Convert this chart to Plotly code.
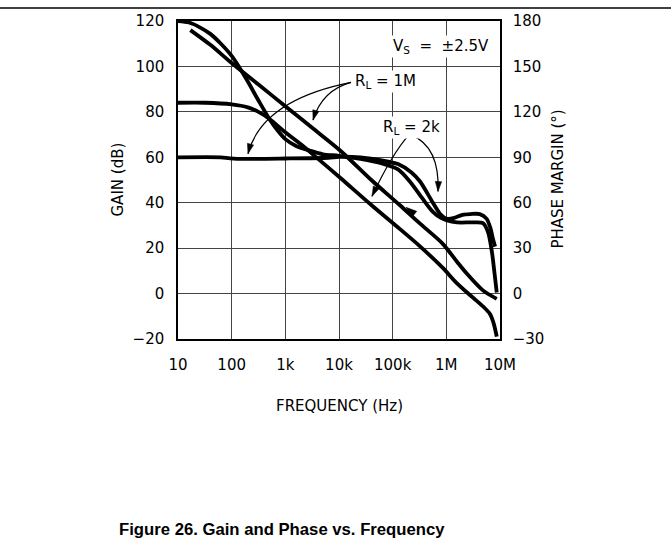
import math
import plotly.graph_objects as go

# ---------------- data ----------------
x_tick_vals = [10, 100, 1e3, 1e4, 1e5, 1e6, 1e7]
x_tick_text = ["10", "100", "1k", "10k", "100k", "1M", "10M"]
gain_ticks = [-20, 0, 20, 40, 60, 80, 100, 120]
phase_ticks = [-30, 0, 30, 60, 90, 120, 150, 180]

# Gain, R_L = 1M (dB)
freq_gain_1m = [17, 40, 100, 316, 1000, 3162, 10500, 40000, 135000, 316000,
                851000, 1.58e6, 2.4e6, 4.8e6, 8.7e6]
gain_1m = [116, 109.5, 101.5, 92, 82.5, 73, 63, 50, 39, 31,
           22, 14, 8.8, 1.4, -2.3]

# Gain, R_L = 2k (dB)
freq_gain_2k = [10, 32, 100, 200, 316, 500, 630, 1000, 2000, 3981, 10500,
                40000, 135000, 316000, 851000, 1.58e6, 3.1e6, 5e6, 6.5e6,
                7.6e6, 8.7e6]
gain_2k = [84, 84, 83.3, 82, 80, 77, 75, 71, 65.5, 59.5, 51,
           39, 28.5, 21, 11.4, 4.5, -1.7, -6, -9,
           -13, -19]

# Phase margin, R_L = 2k (deg)
freq_phase_2k = [10, 16, 25, 40, 63, 100, 141, 200, 316, 500, 708, 1000,
                 1585, 2818, 5012, 10000, 25000, 63000, 126000, 209000,
                 355000, 562000, 794000, 1e6, 1.58e6, 3.16e6, 4.8e6, 6e6,
                 7.1e6, 7.9e6, 8.7e6]
phase_2k = [180, 179, 176, 171.5, 165, 157, 149, 140, 127.5, 115.5, 108, 102,
            97.5, 94.5, 92, 91, 89, 86, 82, 74,
            63, 54, 50, 48.5, 47, 47, 46.5, 40.5,
            27, 13.5, 0.75]

# Phase margin, R_L = 1M (deg)
freq_phase_1m = [10, 63, 89, 126, 1000, 6310, 10000, 25000, 63000, 126000,
                 224000, 324000, 562000, 794000, 1e6, 1.41e6, 2e6, 2.8e6,
                 4.2e6, 5.6e6, 6.6e6, 7.4e6, 8.1e6]
phase_1m = [90, 90, 89.4, 89, 89.2, 89.7, 90.3, 89.9, 88, 85.5,
            80, 74, 60, 52, 49.5, 50, 52, 52.5,
            52.5, 49.5, 43.5, 36, 31]

# ---------------- figure ----------------
FONT = "DejaVu Sans"
L, R, T, B = 178, 171, 18, 209
W, H = 671, 548
PW, PH = W - L - R, H - T - B
NB = "\u00a0"


def px(x, y):
    """pixel -> paper coordinates (for decorations only)"""
    return (x - L) / PW, (H - B - y) / PH


line_style = dict(color="black", width=3.8, shape="spline", smoothing=0.8)

fig = go.Figure()
fig.add_trace(go.Scatter(x=freq_gain_1m, y=gain_1m, mode="lines",
                         line=line_style, name="Gain RL=1M", yaxis="y"))
fig.add_trace(go.Scatter(x=freq_gain_2k, y=gain_2k, mode="lines",
                         line=line_style, name="Gain RL=2k", yaxis="y"))
fig.add_trace(go.Scatter(x=freq_phase_2k, y=phase_2k, mode="lines",
                         line=line_style, name="Phase RL=2k", yaxis="y2"))
fig.add_trace(go.Scatter(x=freq_phase_1m, y=phase_1m, mode="lines",
                         line=line_style, name="Phase RL=1M", yaxis="y2"))

tickfont = dict(family=FONT, size=15, color="black")

fig.update_layout(
    width=W, height=H,
    margin=dict(l=L, r=R, t=T, b=B),
    paper_bgcolor="white", plot_bgcolor="white",
    showlegend=False,
    xaxis=dict(type="log", range=[1, 7], tickvals=x_tick_vals,
               ticktext=x_tick_text, tickfont=tickfont,
               showgrid=True, gridcolor="#444", gridwidth=1,
               showline=True, linecolor="black", linewidth=1.5, mirror=True,
               ticks="", ticklabelstandoff=11, zeroline=False),
    yaxis=dict(range=[-20, 120], tickvals=gain_ticks, tickfont=tickfont,
               showgrid=True, gridcolor="#444", gridwidth=1,
               showline=True, linecolor="black", linewidth=1.5, mirror=True,
               ticks="", ticklabelstandoff=9, zeroline=False),
    yaxis2=dict(range=[-30, 180], tickvals=phase_ticks, tickfont=tickfont,
                overlaying="y", side="right", showgrid=False,
                showline=True, linecolor="black", linewidth=1.5,
                ticks="", ticklabelstandoff=8, zeroline=False),
)

annotations = []


def text_ann(txt, x, y, xanchor="left", angle=0, size=15,
             family=FONT, bg=None):
    xp, yp = px(x, y)
    d = dict(text=txt, x=xp, y=yp, xref="paper", yref="paper",
             xanchor=xanchor, yanchor="middle", showarrow=False,
             textangle=angle,
             font=dict(family=family, size=size, color="black"))
    if bg:
        d["bgcolor"] = bg
        d["borderpad"] = 1
    annotations.append(d)


# axis titles
text_ann("GAIN (dB)", 118, 178, xanchor="center", angle=-90, size=15)
text_ann("PHASE MARGIN (°)", 558, 178, xanchor="center", angle=-90, size=15)
text_ann("FREQUENCY (Hz)", 339, 407, xanchor="center", size=15)
text_ann("<b>Figure 26. Gain and Phase vs. Frequency</b>", 282, 531,
         xanchor="center", size=16.7, family="Liberation Sans")

# curve labels
text_ann(f"V<sub>S</sub>{NB}{NB}={NB}{NB}±2.5V", 391, 44, bg="white")
text_ann(f"R<sub>L</sub>{NB}={NB}1M", 353, 79, bg="white")
text_ann(f"R<sub>L</sub>{NB}={NB}2k", 381, 125, bg="white")

shapes = []


def qpath(p0, c, p1):
    a, b, e = px(*p0), px(*c), px(*p1)
    return f"M {a[0]},{a[1]} Q {b[0]},{b[1]} {e[0]},{e[1]}"


def head(tip, frm, length=10, half=3.2):
    """filled triangular arrow head (decoration) at tip, pointing away from frm"""
    dx, dy = tip[0] - frm[0], tip[1] - frm[1]
    n = math.hypot(dx, dy)
    ux, uy = dx / n, dy / n
    bx, by = tip[0] - ux * length, tip[1] - uy * length
    p1 = (bx - uy * half, by + ux * half)
    p2 = (bx + uy * half, by - ux * half)
    pts = [px(*tip), px(*p1), px(*p2)]
    path = "M " + " L ".join(f"{a},{b}" for a, b in pts) + " Z"
    return dict(type="path", path=path, xref="paper", yref="paper",
                fillcolor="black", line=dict(color="black", width=0.5))


leaders = [
    ((351, 80), (262, 98), (248, 152)),
    ((351, 80), (322, 88), (313, 118)),
    ((409, 133), (392, 152), (372, 195)),
    ((411, 133), (440, 145), (438, 190)),
]
for p0, c, p1 in leaders:
    shapes.append(dict(type="path", path=qpath(p0, c, p1), xref="paper",
                       yref="paper", line=dict(color="black", width=1.2)))
    shapes.append(head(p1, c))

# small direction arrowhead on the R_L = 1M gain curve
shapes.append(head((406, 206), (416, 214), length=11, half=3.5))

# top rule across the page
y_top = px(0, 5)[1]
shapes.append(dict(type="line", xref="paper", yref="paper",
                   x0=px(0, 0)[0], x1=px(W, 0)[0], y0=y_top, y1=y_top,
                   line=dict(color="black", width=1.5)))

fig.update_layout(annotations=annotations, shapes=shapes)
fig.write_html("out.html",
               config={"displayModeBar": False},
               post_script="document.body.style.margin='0px';"
                           "document.body.style.overflow='hidden';")
